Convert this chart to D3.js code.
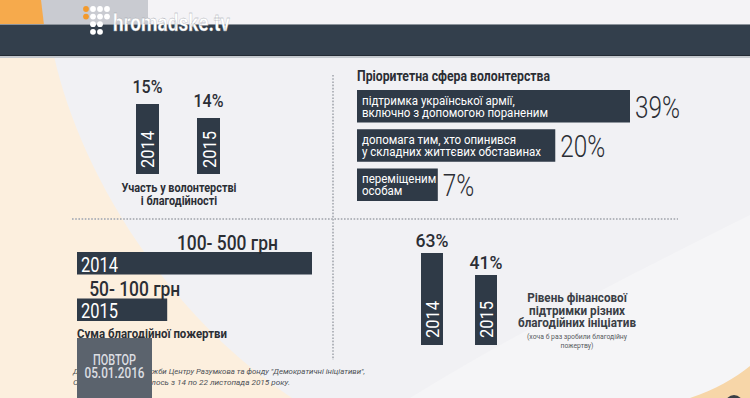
<!DOCTYPE html>
<html><head><meta charset="utf-8">
<script src="https://cdn.jsdelivr.net/npm/d3@7"></script>
<style>
html,body{margin:0;padding:0;background:#f1f1f4;}
svg{display:block;font-family:Roboto,"DejaVu Sans",sans-serif;}
</style>
</head><body>
<svg id="c" width="750" height="398"></svg>
<script>
// ---------- data ----------
const participationYears = ["2014", "2015"];
const participationValues = [15, 14];
const participationCaption = ["Участь у волонтерстві", "і благодійності"];

const sphereTitle = "Пріоритетна сфера волонтерства";
const sphereLabels = [
  ["підтримка української армії,", "включно з допомогою пораненим"],
  ["допомага тим, хто опинився", "у складних життєвих обставинах"],
  ["переміщеним", "особам"]
];
const sphereValues = [39, 20, 7];

const donationYears = ["2014", "2015"];
const donationRanges = ["100- 500 грн", "50- 100 грн"];
const donationUpper = [500, 100];
const donationCaption = "Сума благодійної пожертви";

const supportYears = ["2014", "2015"];
const supportValues = [63, 41];
const supportCaption = ["Рівень фінансової", "підтримки різних", "благодійних ініціатив"];
const supportNote = ["(хоча б раз зробили благодійну", "пожертву)"];

const footnote = [
  "Дані соціологічної служби Центру Разумкова та фонду \"Демократичні ініціативи\",",
  "Опитування проводилось з 14 по 22 листопада 2015 року."
];
const replay = ["ПОВТОР", "05.01.2016"];

// ---------- helpers ----------
const svg = d3.select("#c");
const DARK = "#2f3a47", INK = "#2b2e34";
function fitWidth(sel, w) {
  sel.attr("textLength", w).attr("lengthAdjust", "spacingAndGlyphs");
}
function squeeze(sel, r) {
  sel.each(function () {
    const L = this.getComputedTextLength();
    d3.select(this).attr("textLength", L * r).attr("lengthAdjust", "spacingAndGlyphs");
  });
}
function ratioFor(text, size, weight, target) {
  const t = svg.append("text").attr("font-size", size).attr("font-weight", weight).text(text);
  const L = t.node().getComputedTextLength();
  t.remove();
  return target / L;
}

// ---------- background ----------
svg.append("rect").attr("width", 750).attr("height", 398).attr("fill", "#f1f1f4");
svg.append("path").attr("d", "M410,398 C520,330 640,270 750,215 L750,398 Z").attr("fill", "#f5f5f7");
svg.append("path")
  .attr("d", "M0,56 L54,56 C78,165 160,310 292,398 L0,398 Z")
  .attr("fill", "#fcefde");
svg.append("path").attr("d", "M690,398 C715,390 735,378 750,366 L750,398 Z").attr("fill", "#f7d6a8");
svg.append("circle").attr("cx", 734).attr("cy", 404).attr("r", 9).attr("fill", "#3a3f46");

// top strip
svg.append("rect").attr("x", 0).attr("y", 0).attr("width", 750).attr("height", 25).attr("fill", "#f4f3f6");
svg.append("path").attr("d", "M40,0 L148,0 L148,25 L43,25 Z").attr("fill", "#c9cbd1");
svg.append("path").attr("d", "M0,0 L41,0 L44,25 L0,25 Z").attr("fill", "#f6aa4c");
// header band
svg.append("rect").attr("x", 0).attr("y", 24).attr("width", 750).attr("height", 1.5).attr("fill", "#8c939b");
svg.append("rect").attr("x", 0).attr("y", 25).attr("width", 750).attr("height", 30).attr("fill", "#333f4c");
svg.append("rect").attr("x", 0).attr("y", 55).attr("width", 750).attr("height", 1).attr("fill", "#232b34");
svg.append("rect").attr("x", 0).attr("y", 56).attr("width", 750).attr("height", 2).attr("fill", "#c5c9ce");

// logo
const logoDots = [
  [0, 0, "#f39a2c"], [0, 1, "#f39a2c"],
  [1, 0, "#fff"], [2, 0, "#fff"], [3, 0, "#fff"],
  [1, 1, "#fff"], [2, 1, "#fff"], [3, 1, "#fff"],
  [1, 2, "#fff"], [2, 2, "#fff"],
  [1, 3, "#fff"], [2, 3, "#fff"]
];
svg.append("g").selectAll("circle").data(logoDots).join("circle")
  .attr("cx", d => 86 + d[0] * 7).attr("cy", d => 9 + d[1] * 7.6)
  .attr("r", 2.9).attr("fill", d => d[2]);
svg.append("text").attr("x", 113).attr("y", 31).attr("font-size", 23).attr("font-weight", 700)
  .attr("fill", "#fff").attr("stroke", "#9aa0a8").attr("stroke-width", 0.3)
  .text("hromadske.tv").call(fitWidth, 117);

// dotted separators
svg.append("line").attr("x1", 72).attr("x2", 678).attr("y1", 219).attr("y2", 219)
  .attr("stroke", "#b3b6bc").attr("stroke-width", 2).attr("stroke-dasharray", "1.6,1.6");
svg.append("line").attr("x1", 333).attr("x2", 333).attr("y1", 75).attr("y2", 360)
  .attr("stroke", "#b3b6bc").attr("stroke-width", 2).attr("stroke-dasharray", "1.6,1.6");

// ---------- top-left: participation ----------
{
  const base = 174;
  const x = d3.scaleBand().domain(participationYears).range([136, 220]).paddingInner(0.623);
  const y = d3.scaleLinear().domain([10, 15]).range([base, 104]);
  const g = svg.append("g");
  const data = participationYears.map((yr, i) => ({ yr, v: participationValues[i] }));
  g.selectAll("rect").data(data).join("rect")
    .attr("x", d => x(d.yr)).attr("y", d => y(d.v))
    .attr("width", x.bandwidth()).attr("height", d => base - y(d.v)).attr("fill", DARK);
  g.selectAll("text.pct").data(data).join("text").attr("class", "pct")
    .attr("x", d => x(d.yr) + x.bandwidth() / 2).attr("y", d => y(d.v) - 11)
    .attr("text-anchor", "middle").attr("font-size", 18).attr("font-weight", 500).attr("fill", INK)
    .text(d => d.v + "%").call(fitWidth, 30);
  g.selectAll("text.yr").data(data).join("text").attr("class", "yr")
    .attr("transform", d => `translate(${x(d.yr) + x.bandwidth() / 2 + 7},${base - 6}) rotate(-90)`)
    .attr("font-size", 19).attr("font-weight", 400).attr("fill", "#fff")
    .text(d => d.yr).call(fitWidth, 37);
  const r = ratioFor(participationCaption[0], 12.5, 700, 115);
  g.selectAll("text.cap").data(participationCaption).join("text").attr("class", "cap")
    .attr("x", 179).attr("y", (d, i) => 192 + i * 12.5).attr("text-anchor", "middle")
    .attr("font-size", 12.5).attr("font-weight", 700).attr("fill", INK)
    .text(d => d).call(squeeze, r);
}

// ---------- top-right: priority sphere ----------
{
  const x0 = 357;
  const y = d3.scaleBand().domain(d3.range(sphereValues.length)).range([90, 201]).paddingInner(0.172);
  const w = d3.scaleLog().domain([3.4, 39]).range([0, 273]);
  const g = svg.append("g");
  g.append("text").attr("x", x0).attr("y", 81).attr("font-size", 14).attr("font-weight", 700)
    .attr("fill", INK).text(sphereTitle).call(fitWidth, 193);
  const data = sphereValues.map((v, i) => ({ v, i, lines: sphereLabels[i] }));
  g.selectAll("rect").data(data).join("rect")
    .attr("x", x0).attr("y", d => y(d.i)).attr("width", d => w(d.v)).attr("height", y.bandwidth())
    .attr("fill", DARK);
  const r = ratioFor(sphereLabels[0][1], 12.5, 400, 186);
  data.forEach(d => {
    d.lines.forEach((ln, j) => {
      g.append("text").attr("x", x0 + 5).attr("y", y(d.i) + 14.5 + j * 12)
        .attr("font-size", 12.5).attr("font-weight", 400).attr("fill", "#fff")
        .text(ln).call(squeeze, r);
    });
  });
  const rp = ratioFor("39%", 32, 300, 45);
  g.selectAll("text.pct").data(data).join("text").attr("class", "pct")
    .attr("x", d => x0 + w(d.v) + 5).attr("y", d => y(d.i) + y.bandwidth() / 2 + 11.5)
    .attr("font-size", 32).attr("font-weight", 300).attr("fill", INK)
    .text(d => d.v + "%").call(squeeze, rp);
}

// ---------- bottom-left: donation amount ----------
{
  const x0 = 77;
  const y = d3.scaleBand().domain(donationYears).range([252, 321]).paddingInner(0.516);
  const w = d3.scaleLinear().domain([0, 500]).range([54, 235]);
  const g = svg.append("g");
  const data = donationYears.map((yr, i) => ({ yr, v: donationUpper[i], lab: donationRanges[i] }));
  g.selectAll("rect").data(data).join("rect")
    .attr("x", x0).attr("y", d => y(d.yr)).attr("width", d => w(d.v)).attr("height", y.bandwidth())
    .attr("fill", DARK);
  g.selectAll("text.yr").data(data).join("text").attr("class", "yr")
    .attr("x", x0 + 4).attr("y", d => y(d.yr) + y.bandwidth() - 3)
    .attr("font-size", 20).attr("font-weight", 400).attr("fill", "#fff")
    .text(d => d.yr).call(fitWidth, 37);
  const r = ratioFor(donationRanges[0], 20, 500, 101);
  g.selectAll("text.lab").data(data).join("text").attr("class", "lab")
    .attr("x", d => x0 + 0.64 * w(d.v)).attr("y", d => y(d.yr) - 2.5)
    .attr("text-anchor", "middle").attr("font-size", 20).attr("font-weight", 500).attr("fill", INK)
    .text(d => d.lab).call(squeeze, r);
  g.append("text").attr("x", x0).attr("y", 338).attr("font-size", 13).attr("font-weight", 700)
    .attr("fill", INK).text(donationCaption).call(fitWidth, 150);
}

// ---------- bottom-right: financial support ----------
{
  const base = 345;
  const x = d3.scaleBand().domain(supportYears).range([421, 497]).paddingInner(0.593);
  const h = d3.scaleLinear().domain([0, 63]).range([29, 92]);
  const g = svg.append("g");
  const data = supportYears.map((yr, i) => ({ yr, v: supportValues[i] }));
  g.selectAll("rect").data(data).join("rect")
    .attr("x", d => x(d.yr)).attr("y", d => base - h(d.v))
    .attr("width", x.bandwidth()).attr("height", d => h(d.v)).attr("fill", DARK);
  g.selectAll("text.pct").data(data).join("text").attr("class", "pct")
    .attr("x", d => x(d.yr) + x.bandwidth() / 2).attr("y", d => base - h(d.v) - 6)
    .attr("text-anchor", "middle").attr("font-size", 18).attr("font-weight", 500).attr("fill", INK)
    .text(d => d.v + "%").call(fitWidth, 33);
  g.selectAll("text.yr").data(data).join("text").attr("class", "yr")
    .attr("transform", d => `translate(${x(d.yr) + x.bandwidth() / 2 + 7},${base - 7}) rotate(-90)`)
    .attr("font-size", 19).attr("font-weight", 400).attr("fill", "#fff")
    .text(d => d.yr).call(fitWidth, 37);
  const r = ratioFor(supportCaption[2], 12.5, 700, 118);
  g.selectAll("text.cap").data(supportCaption).join("text").attr("class", "cap")
    .attr("x", 577).attr("y", (d, i) => 302 + i * 12.5).attr("text-anchor", "middle")
    .attr("font-size", 12.5).attr("font-weight", 700).attr("fill", "#3a3e45")
    .text(d => d).call(squeeze, r);
  const rn = ratioFor(supportNote[0], 6.5, 400, 100);
  g.selectAll("text.note").data(supportNote).join("text").attr("class", "note")
    .attr("x", 577).attr("y", (d, i) => 339 + i * 9).attr("text-anchor", "middle")
    .attr("font-size", 6.5).attr("fill", "#555a60")
    .text(d => d).call(squeeze, rn);
}

// ---------- footnote and replay badge ----------
{
  const g = svg.append("g");
  g.selectAll("text.fn").data(footnote).join("text").attr("class", "fn")
    .attr("x", 73).attr("y", (d, i) => 374 + i * 11)
    .attr("font-size", 8).attr("font-style", "italic").attr("fill", "#4d5157")
    .text(d => d);
  const fn = g.selectAll("text.fn").nodes();
  fitWidth(d3.select(fn[0]), 292);
  fitWidth(d3.select(fn[1]), 217);
  g.append("rect").attr("x", 77).attr("y", 338).attr("width", 75).attr("height", 60)
    .attr("fill", "#5b636d");
  g.selectAll("text.rp").data(replay).join("text").attr("class", "rp")
    .attr("x", 114.5).attr("y", (d, i) => 365 + i * 13).attr("text-anchor", "middle")
    .attr("font-size", 15).attr("font-weight", 500).attr("fill", "#dcdee2")
    .text(d => d);
  const rp = g.selectAll("text.rp").nodes();
  fitWidth(d3.select(rp[0]), 43);
  fitWidth(d3.select(rp[1]), 60);
}
</script>
</body></html>
